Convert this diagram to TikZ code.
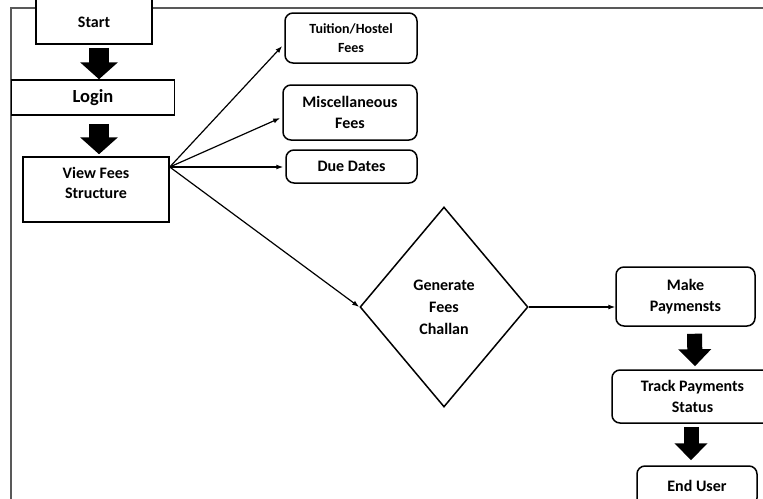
\documentclass[tikz,border=0pt]{standalone}
\usepackage{fontspec}
\setmainfont{Carlito}
\usetikzlibrary{arrows.meta,shapes.geometric,calc}
\tikzset{
  box/.style={draw=black, line width=1.5pt, fill=white, align=center, inner sep=0pt, font=\bfseries\fontsize{16}{21}\selectfont},
  rbox/.style={box, rounded corners=8pt},
  thin/.style={line width=1.2pt, -{Latex[length=7pt,width=5pt]}},
  bigarrow/.style={line width=20pt, -{Triangle[width=37pt,length=17pt]}},
  bigarrowR/.style={line width=15pt, -{Triangle[width=32pt,length=17pt]}},
}
\begin{document}
\begin{tikzpicture}[x=1pt,y=-1pt]
\useasboundingbox (0,0) rectangle (763,498);
% frame
\draw[line width=2pt, draw=black!65] (11,499) -- (11,8) -- (764,8);
% nodes
\node[box, minimum width=116pt, minimum height=52pt] (start) at (94,18) {\raisebox{-9pt}[0pt][0pt]{Start}};
\node[box, minimum width=163pt, minimum height=35pt, font=\bfseries\fontsize{18.5}{22}\selectfont] (login) at (93,97.5) {Login};
\node[box, minimum width=146pt, minimum height=65pt, font=\bfseries\fontsize{16}{20}\selectfont] (view) at (96,189.5) {\raisebox{0.5pt}[0pt][0pt]{\begin{tabular}{@{}c@{}}View Fees\\Structure\end{tabular}}};
\node[rbox, minimum width=132pt, minimum height=50pt, font=\bfseries\fontsize{14}{19}\selectfont] (tuit) at (351,38) {Tuition/Hostel\\Fees};
\node[rbox, minimum width=134pt, minimum height=55pt] (misc) at (350,112.5) {Miscellaneous\\Fees};
\node[rbox, minimum width=131pt, minimum height=33pt] (due) at (351.5,166.5) {Due Dates};
\node[box, diamond, minimum width=168pt, minimum height=200pt, font=\bfseries\fontsize{16}{22}\selectfont] (gen) at (444,307) {Generate\\Fees\\Challan};
\node[rbox, minimum width=139pt, minimum height=59pt] (make) at (685.5,296.5) {Make\\Paymensts};
\node[rbox, minimum width=161pt, minimum height=53pt] (track) at (692.5,396.5) {Track Payments\\Status};
\node[rbox, minimum width=120pt, minimum height=40pt] (end) at (697,486) {End User};
% thin connectors
\coordinate (vf) at ($(view.east)+(0,-22.5)$);
\draw[thin] (vf) -- ([yshift=-8pt,xshift=-2pt]tuit.west);
\draw[thin] (vf) -- ([yshift=-5.5pt,xshift=-2pt]misc.west);
\draw[thin] (vf) -- ([yshift=-0.5pt,xshift=-2pt]due.west);
\draw[thin] (vf) -- (gen.west);
\draw[thin] (gen.east) -- ([yshift=-10.5pt]make.west);
% big arrows
\draw[bigarrow, shorten <=3pt] ([xshift=5pt]start.south) -- ([xshift=6pt]login.north);
\draw[bigarrow, shorten <=8pt, shorten >=2pt] ([xshift=6pt]login.south) -- ([xshift=3pt]view.north);
\draw[bigarrowR, shorten <=7pt, shorten >=3pt] ([xshift=9pt]make.south) -- ([xshift=2.5pt]track.north);
\draw[bigarrowR, shorten <=3pt, shorten >=5pt] ([xshift=-1.5pt]track.south) -- ([xshift=-6pt]end.north);
\end{tikzpicture}
\end{document}
